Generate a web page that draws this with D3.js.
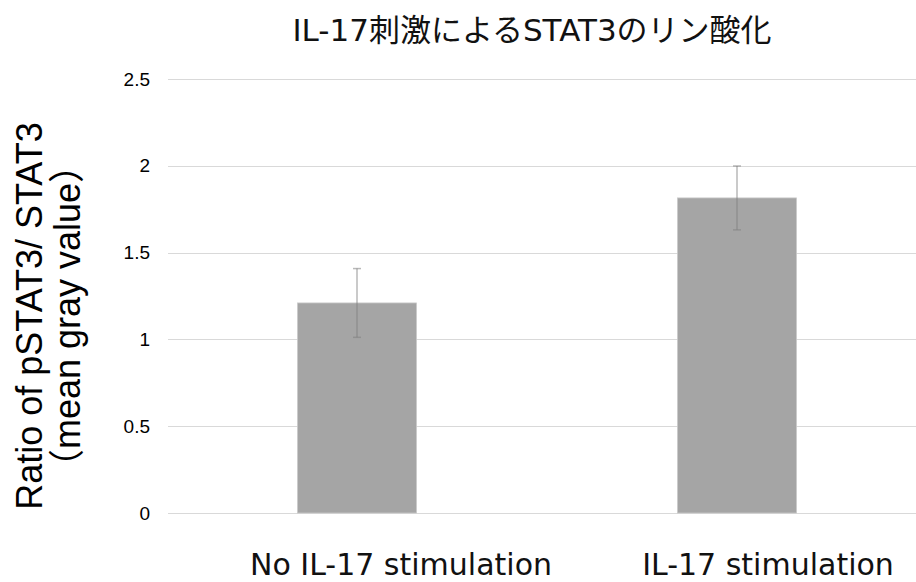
<!DOCTYPE html>
<html>
<head>
<meta charset="utf-8">
<script src="https://cdn.jsdelivr.net/npm/d3@7"></script>
<style>
  html, body { margin: 0; padding: 0; background: #fff; }
  svg { display: block; }
</style>
</head>
<body>
<svg id="chart" width="916" height="582"></svg>
<script>
// ---- data ----
const categories = ["No IL-17 stimulation", "IL-17 stimulation"];
const values = [1.21, 1.815];
const errors = [0.198, 0.184];
const yTicks = [0, 0.5, 1, 1.5, 2, 2.5];
const yTickLabels = ["0", "0.5", "1", "1.5", "2", "2.5"];
const title = "IL-17刺激によるSTAT3のリン酸化";
const yTitleLines = ["Ratio of pSTAT3/ STAT3", "（mean gray value）"];

(function () {
  // ---- layout ----
  const svg = d3.select("#chart");
  const plotLeft = 167, plotRight = 927, plotTop = 79, plotBottom = 513;
  const labelOffsets = [44, 31];

  const x = d3.scaleBand().domain(categories).range([plotLeft, plotRight]).padding(0);
  const y = d3.scaleLinear().domain([0, 2.5]).range([plotBottom, plotTop]);
  const barW = x.bandwidth() * 0.313;

  // gridlines
  svg.append("g").selectAll("line").data(yTicks).join("line")
    .attr("x1", plotLeft + 1).attr("x2", plotRight)
    .attr("y1", d => Math.round(y(d)) + 0.5).attr("y2", d => Math.round(y(d)) + 0.5)
    .attr("stroke", "#d9d9d9").attr("stroke-width", 1);

  // y tick labels
  svg.append("g").selectAll("text").data(yTicks).join("text")
    .attr("x", 150).attr("y", d => y(d))
    .attr("dy", "0.35em")
    .attr("text-anchor", "end")
    .attr("font-family", "'Liberation Sans', Arial, sans-serif")
    .attr("font-size", 19)
    .attr("fill", "#000")
    .text((d, i) => yTickLabels[i]);

  // bars
  svg.append("g").selectAll("rect").data(values).join("rect")
    .attr("x", (d, i) => x(categories[i]) + x.bandwidth() / 2 - barW / 2)
    .attr("width", barW)
    .attr("y", d => y(d))
    .attr("height", d => y(0) - y(d))
    .attr("fill", "#a5a5a5")
    .attr("stroke", "#c9c9c9").attr("stroke-width", 0.8);

  // error bars
  const eg = svg.append("g").attr("stroke", "#7f7f7f").attr("stroke-opacity", 0.55).attr("stroke-width", 1.5);
  values.forEach((v, i) => {
    const cx = x(categories[i]) + x.bandwidth() / 2;
    const yt = y(v + errors[i]), yb = y(v - errors[i]);
    eg.append("line").attr("x1", cx).attr("x2", cx).attr("y1", yt).attr("y2", yb);
    eg.append("line").attr("x1", cx - 4).attr("x2", cx + 4).attr("y1", yt).attr("y2", yt);
    eg.append("line").attr("x1", cx - 4).attr("x2", cx + 4).attr("y1", yb).attr("y2", yb);
  });

  // category labels
  svg.append("g").selectAll("text").data(categories).join("text")
    .attr("x", (d, i) => x(d) + x.bandwidth() / 2 + labelOffsets[i])
    .attr("y", 575)
    .attr("text-anchor", "middle")
    .attr("font-family", "'DejaVu Sans', 'Noto Sans CJK JP', sans-serif")
    .attr("font-size", 30)
    .attr("fill", "#111")
    .text(d => d);

  // title
  svg.append("text")
    .attr("x", 532).attr("y", 41)
    .attr("text-anchor", "middle")
    .attr("font-family", "'DejaVu Sans', 'Noto Sans CJK JP', sans-serif")
    .attr("font-size", 31)
    .attr("fill", "#111")
    .text(title);

  // y title
  const yLineX = [42, 80];
  yTitleLines.forEach((t, i) => {
    svg.append("text")
      .attr("transform", `translate(${yLineX[i]},316) rotate(-90)`)
      .attr("text-anchor", "middle")
      .attr("font-family", "'Liberation Sans', Arial, 'Noto Sans CJK JP', sans-serif")
      .attr("font-size", 36)
      .attr("fill", "#000")
      .text(t);
  });
})();
</script>
</body>
</html>
